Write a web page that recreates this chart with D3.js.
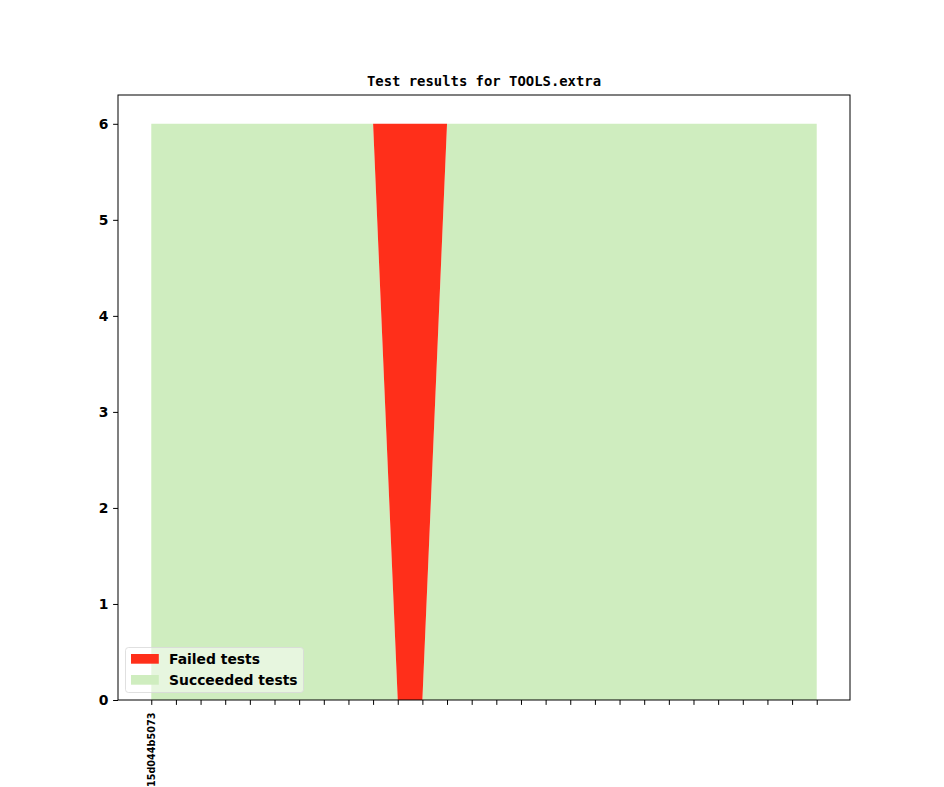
<!DOCTYPE html>
<html>
<head>
<meta charset="utf-8">
<script src="https://cdn.jsdelivr.net/npm/d3@7"></script>
<style>
  html, body { margin: 0; padding: 0; background: #fff; }
  svg { display: block; }
</style>
</head>
<body>
<svg id="chart" width="944" height="787"></svg>
<script>
// ---- data ----
const commits = ["15d044b5073","","","","","","","","","","","","","","","","","","","","","","","","","","",""];
const failedTests =    [0,0,0,0,0,0,0,0,0,0,6,6,0,0,0,0,0,0,0,0,0,0,0,0,0,0,0,0];
const succeededTests = [6,6,6,6,6,6,6,6,6,6,0,0,6,6,6,6,6,6,6,6,6,6,6,6,6,6,6,6];
const yTicks = [0,1,2,3,4,5,6];
const titleText = "Test results for TOOLS.extra";
const legendLabels = ["Failed tests", "Succeeded tests"];

// ---- layout ----
const W = 944, H = 787;
const mLeft = 118, mRight = 850, mTop = 95, mBottom = 700;
const RED = "#ff2f1a", GREEN = "#cfedbf";

const svg = d3.select("#chart");
const n = commits.length;
const xs = d3.scaleLinear().domain([-(n-1)*0.05, (n-1)*1.05]).range([mLeft, mRight]);
const ys = d3.scaleLinear().domain([0, 6.3]).range([mBottom, mTop]);

const idx = d3.range(n);
// green: 0 -> succeeded (bottom), red: succeeded -> succeeded+failed
const greenArea = d3.area().x(i => xs(i)).y0(() => ys(0)).y1(i => ys(succeededTests[i]));
const redArea = d3.area().x(i => xs(i)).y0(i => ys(succeededTests[i])).y1(i => ys(succeededTests[i] + failedTests[i]));

svg.append("path").datum(idx).attr("d", greenArea).attr("fill", GREEN);
svg.append("path").datum(idx).attr("d", redArea).attr("fill", RED);

// axes
const xAxis = d3.axisBottom(xs).tickValues(idx).tickFormat(i => commits[i]).tickSize(4.9).tickSizeOuter(0);
const gx = svg.append("g").attr("transform", `translate(0,${mBottom})`).call(xAxis);
gx.select(".domain").remove();
gx.selectAll(".tick line").attr("stroke", "#000").attr("stroke-width", 1);
gx.selectAll(".tick text")
  .attr("font-family", "DejaVu Sans").attr("font-weight", "bold").attr("font-size", "9.7px")
  .attr("fill", "#000")
  .attr("transform", "rotate(-90)")
  .attr("text-anchor", "end")
  .attr("x", -12.5).attr("y", 0).attr("dy", "0.35em");

const yAxis = d3.axisLeft(ys).tickValues(yTicks).tickFormat(d3.format("d")).tickSize(4.9).tickSizeOuter(0);
const gy = svg.append("g").attr("transform", `translate(${mLeft},0)`).call(yAxis);
gy.select(".domain").remove();
gy.selectAll(".tick line").attr("stroke", "#000");
gy.selectAll(".tick text")
  .attr("font-family", "DejaVu Sans").attr("font-weight", "bold").attr("font-size", "13.9px")
  .attr("fill", "#000").attr("x", -9.7);

// frame
svg.append("rect").attr("x", mLeft).attr("y", mTop).attr("width", mRight-mLeft).attr("height", mBottom-mTop)
  .attr("fill", "none").attr("stroke", "#000").attr("stroke-width", 1);

// title
svg.append("text").attr("x", (mLeft+mRight)/2).attr("y", mTop - 9.5)
  .attr("text-anchor", "middle")
  .attr("font-family", "DejaVu Sans Mono").attr("font-weight", "bold").attr("font-size", "13.9px")
  .attr("fill", "#000").text(titleText);

// legend
const lg = svg.append("g");
lg.append("rect").attr("x", 125.5).attr("y", 647.5).attr("width", 178).attr("height", 45).attr("rx", 3)
  .attr("fill", "#fff").attr("fill-opacity", 0.5).attr("stroke", "#d8d8d8").attr("stroke-opacity", 0.8);
const lColors = [RED, GREEN];
legendLabels.forEach((lab, k) => {
  const cy = 659 + k * 21;
  lg.append("rect").attr("x", 131).attr("y", cy - 5).attr("width", 27.8).attr("height", 9.7).attr("fill", lColors[k]);
  lg.append("text").attr("x", 169).attr("y", cy).attr("dy", "0.35em")
    .attr("font-family", "DejaVu Sans").attr("font-weight", "bold").attr("font-size", "13.9px")
    .attr("fill", "#000").text(lab);
});
</script>
</body>
</html>
